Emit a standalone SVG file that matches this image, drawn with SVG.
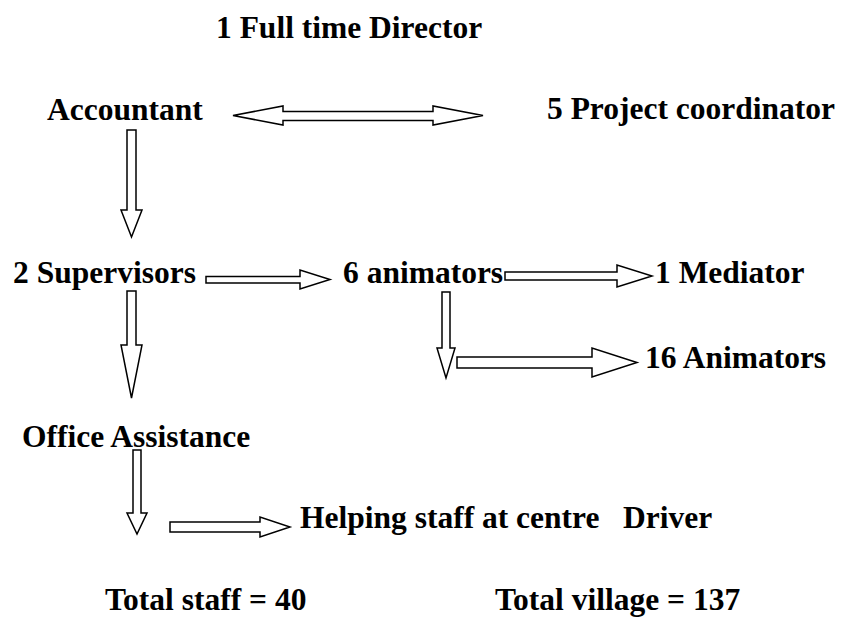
<svg xmlns="http://www.w3.org/2000/svg" width="842" height="617" viewBox="0 0 842 617">
<style>
text{font-family:'Liberation Serif', 'Times New Roman', serif;font-weight:bold;font-size:31.5px;fill:#000;white-space:pre}
.arr{fill:#fff;stroke:#000;stroke-width:1.5;stroke-linejoin:miter}
</style>
<rect width="842" height="617" fill="#fff"/>
<g id="connectors">
<polygon class="arr" points="233,115.5 283,106 283,111.5 433,111.5 433,106 483,115.5 433,125 433,120.5 283,120.5 283,125"/>
<polygon class="arr" points="127,130 136,130 136,210 142,210 131.5,237 121,210 127,210"/>
<polygon class="arr" points="206,276.5 300,276.5 300,270 330,279.5 300,289 300,283 206,283"/>
<polygon class="arr" points="505,272 617,272 617,265 652,276 617,287 617,280 505,280"/>
<polygon class="arr" points="127,291 136,291 136,345 142,345 131.5,398 121,345 127,345"/>
<polygon class="arr" points="442,292 450,292 450,348 455,348 446,378 437,348 442,348"/>
<polygon class="arr" points="457,357 592,357 592,348 637,362.5 592,377 592,368 457,368"/>
<polygon class="arr" points="133,450 141,450 141,513 147,513 137,534 127,513 133,513"/>
<polygon class="arr" points="170,522 260,522 260,517 290,527 260,537 260,532 170,532"/>
</g>
<g id="director"><text x="216" y="38">1 Full time Director</text></g>
<g id="accountant"><text x="47" y="120">Accountant</text></g>
<g id="coordinator"><text x="547" y="119">5 Project coordinator</text></g>
<g id="supervisors"><text x="13" y="283">2 Supervisors</text></g>
<g id="animators6"><text x="343" y="283">6 animators</text></g>
<g id="mediator"><text x="655" y="283">1 Mediator</text></g>
<g id="animators16"><text x="645" y="368">16 Animators</text></g>
<g id="office"><text x="22" y="447">Office Assistance</text></g>
<g id="helping"><text x="300" y="528">Helping staff at centre   Driver</text></g>
<g id="totalstaff"><text x="105" y="610">Total staff = 40</text></g>
<g id="totalvillage"><text x="495" y="610">Total village = 137</text></g>
</svg>
